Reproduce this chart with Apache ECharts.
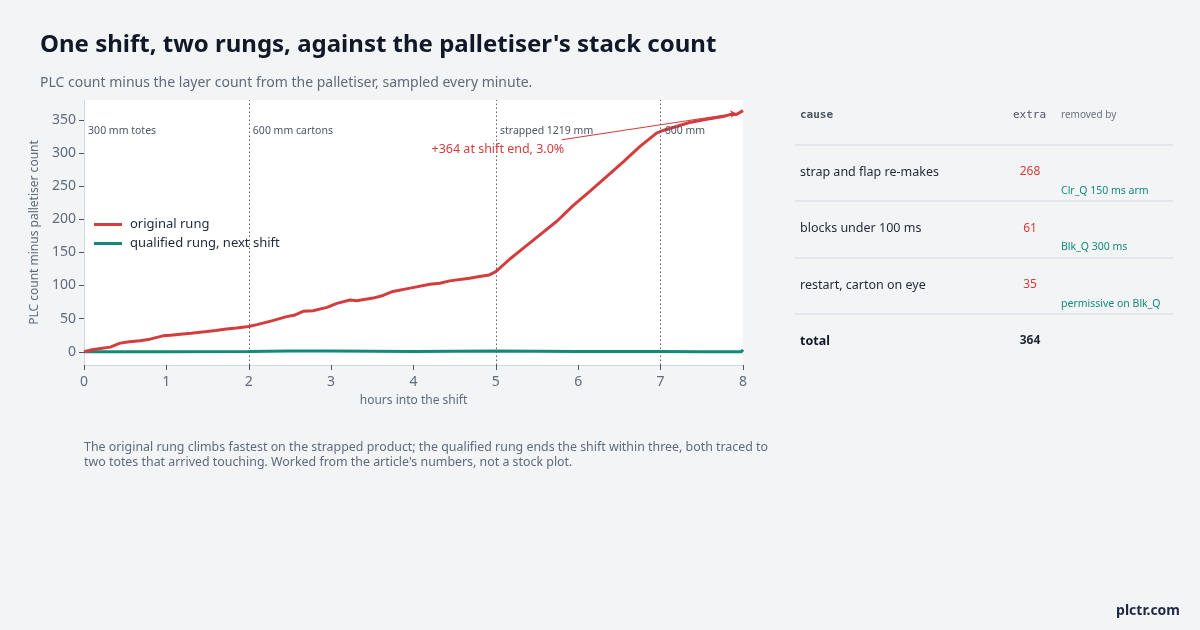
<!DOCTYPE html>
<html>
<head>
<meta charset="utf-8">
<script src="https://cdn.jsdelivr.net/npm/echarts@6/dist/echarts.min.js"></script>
<style>
  html, body { margin: 0; padding: 0; background: #f3f4f6; }
  #chart { width: 1200px; height: 630px; }
</style>
</head>
<body>
<div id="chart"></div>
<script>
// hours into the shift
var redHours = [0, 0.1, 0.2, 0.32, 0.4, 0.44, 0.55, 0.68, 0.8, 0.96, 1.05, 1.17, 1.3, 1.49, 1.6, 1.73, 1.85, 2.0,
    2.1, 2.29, 2.46, 2.55, 2.66, 2.78, 2.95, 3.07, 3.23, 3.31, 3.51, 3.63, 3.75, 3.96, 4.2, 4.32, 4.44, 4.68, 4.8,
    4.92, 5.0, 5.17, 5.33, 5.53, 5.74, 5.94, 6.14, 6.34, 6.55, 6.75, 6.95, 7.03, 7.19, 7.35, 7.56, 7.76, 7.84, 7.92, 8.0];
var redValues = [0, 3, 5, 7, 11, 13, 15, 16.5, 19, 24, 25, 26.5, 28, 30.5, 32, 34.5, 36, 38,
    41, 47, 53, 55, 61, 62, 67, 73, 78, 77, 81, 85, 91, 96, 102, 103.5, 107, 111, 113.5,
    116, 121, 140, 156, 176, 197, 221, 242, 264, 287, 310, 330, 334, 340, 346, 351, 355, 358, 358, 364];

var greenHours = [0, 1, 2, 2.5, 3, 4, 5, 6, 7, 7.5, 7.8, 7.98, 8];
var greenValues = [0, 0, 0.5, 1, 1, 0.5, 1, 0.5, 0.5, 0, 0, 0, 3];

var changeHours = [2, 5, 7];
var productLabels = ['300 mm totes', '600 mm cartons', 'strapped 1219 mm', '600 mm'];
var productStart = [0, 2, 5, 7];

var yTicks = [0, 50, 100, 150, 200, 250, 300, 350];

// breakdown table
var causes = ['strap and flap re-makes', 'blocks under 100 ms', 'restart, carton on eye'];
var extras = [268, 61, 35];
var removedBy = ['Clr_Q 150 ms arm', 'Blk_Q 300 ms', 'permissive on Blk_Q'];
var total = 364;

var RED = '#d43d3d';
var TEAL = '#138a78';
var GREY = '#5f6b7a';

function pairs(xs, ys) {
    return xs.map(function (x, i) { return [x, ys[i]]; });
}

var graphics = [];
// table header
graphics.push({ type: 'text', left: 800, top: 110, style: { text: 'cause', font: 'bold 11px "DejaVu Sans Mono"', fill: '#4b5563' } });
graphics.push({ type: 'text', left: 1013, top: 110, style: { text: 'extra', font: '11px "DejaVu Sans Mono"', fill: '#4b5563' } });
graphics.push({ type: 'text', left: 1061, top: 110, style: { text: 'removed by', font: '10px "Noto Sans"', fill: '#6b7280' } });
var lineYs = [145, 201, 258, 314];
lineYs.forEach(function (y) {
    graphics.push({ type: 'line', shape: { x1: 795, y1: y, x2: 1173, y2: y }, style: { stroke: '#d3dbe4', lineWidth: 1 } });
});
causes.forEach(function (c, i) {
    var y = 172 + i * 56.5;
    graphics.push({ type: 'text', x: 800, y: y, style: { text: c, font: '12.5px "Noto Sans"', fill: '#1f2937', textVerticalAlign: 'middle' } });
    graphics.push({ type: 'text', x: 1030, y: y, style: { text: String(extras[i]), font: '12px "Noto Sans"', fill: RED, textAlign: 'center', textVerticalAlign: 'middle' } });
    graphics.push({ type: 'text', x: 1061, y: y + 19, style: { text: removedBy[i], font: '10.5px "Noto Sans"', fill: TEAL, textVerticalAlign: 'middle' } });
});
graphics.push({ type: 'text', x: 800, y: 341, style: { text: 'total', font: 'bold 12.5px "Noto Sans"', fill: '#111827', textVerticalAlign: 'middle' } });
graphics.push({ type: 'text', x: 1030, y: 341, style: { text: String(total), font: 'bold 12px "Noto Sans"', fill: '#1f2937', textAlign: 'center', textVerticalAlign: 'middle' } });
// footnote
graphics.push({ type: 'text', x: 84, y: 440, style: {
    text: 'The original rung climbs fastest on the strapped product; the qualified rung ends the shift within three, both traced to\ntwo totes that arrived touching. Worked from the article\'s numbers, not a stock plot.',
    font: '12.4px "Noto Sans"', fill: GREY, lineHeight: 15 } });
graphics.push({ type: 'text', right: 20, top: 604, style: { text: 'plctr.com', font: 'bold 14px "Noto Sans"', fill: '#1e2a44' } });

var myChart = echarts.init(document.getElementById('chart'));
myChart.setOption({
    backgroundColor: '#f3f4f6',
    animation: false,
    textStyle: { fontFamily: 'Noto Sans' },
    title: [
        { text: "One shift, two rungs, against the palletiser's stack count", left: 35, top: 28,
          textStyle: { fontSize: 24, fontWeight: 'bold', color: '#111827' } },
        { text: 'PLC count minus the layer count from the palletiser, sampled every minute.', left: 35, top: 71,
          textStyle: { fontSize: 14, fontWeight: 'normal', color: GREY } }
    ],
    grid: { left: 84, right: 457, top: 100, bottom: 265, show: true, backgroundColor: '#ffffff', borderWidth: 0 },
    legend: {
        left: 89, top: 213, orient: 'vertical', itemGap: 6, itemWidth: 28, itemHeight: 3, icon: 'rect',
        textStyle: { fontSize: 13, color: '#1f2937', padding: [0, 0, 0, 3] },
        data: ['original rung', 'qualified rung, next shift']
    },
    xAxis: {
        type: 'value', min: 0, max: 8, interval: 1,
        name: 'hours into the shift', nameLocation: 'middle', nameGap: 30,
        nameTextStyle: { fontSize: 12, color: GREY },
        axisLine: { onZero: false, lineStyle: { color: '#cfd8e3' } },
        axisTick: { show: true, length: 5, lineStyle: { color: '#4b5563' } },
        axisLabel: { fontSize: 14, color: GREY, margin: 10 },
        splitLine: { show: false }
    },
    yAxis: {
        type: 'value', min: -20, max: 380,
        name: 'PLC count minus palletiser count', nameLocation: 'middle', nameGap: 41,
        nameTextStyle: { fontSize: 12, color: GREY },
        axisLine: { show: true, lineStyle: { color: '#cfd8e3' } },
        axisTick: { show: true, length: 5, customValues: yTicks, lineStyle: { color: '#4b5563' } },
        axisLabel: { fontSize: 14, color: GREY, margin: 8, customValues: yTicks },
        splitLine: { show: false }
    },
    series: [
        {
            name: 'original rung', type: 'line', data: pairs(redHours, redValues),
            showSymbol: false, color: RED, lineStyle: { width: 3, color: RED }, z: 3,
            markLine: {
                silent: true, symbol: ['none', 'arrow'], symbolSize: 6,
                lineStyle: { color: RED, width: 1.2, type: 'solid' }, label: { show: false },
                data: [[{ coord: [5.8, 320] }, { coord: [7.92, 360] }]]
            },
            markPoint: {
                silent: true, symbol: 'circle', symbolSize: 1, itemStyle: { color: 'rgba(0,0,0,0)' },
                label: { show: true, position: 'inside', align: 'right', verticalAlign: 'middle', fontSize: 12.5, color: RED,
                    formatter: '+' + total + ' at shift end, 3.0%' },
                data: [{ coord: [5.83, 305] }]
            }
        },
        {
            name: 'qualified rung, next shift', type: 'line', data: pairs(greenHours, greenValues),
            showSymbol: false, color: TEAL, lineStyle: { width: 3, color: TEAL }, z: 2,
            markLine: {
                silent: true, symbol: ['none', 'none'],
                lineStyle: { color: '#555d69', width: 1, type: [1.5, 2.5] }, label: { show: false },
                data: changeHours.map(function (h) { return { xAxis: h }; })
            },
            markPoint: {
                silent: true, symbol: 'circle', symbolSize: 1, itemStyle: { color: 'rgba(0,0,0,0)' },
                label: { show: true, position: 'inside', align: 'left', verticalAlign: 'middle', fontSize: 10.5, color: '#4b5563',
                    formatter: function (p) { return p.name; } },
                data: productStart.map(function (h, i) { return { name: productLabels[i], coord: [h + 0.05, 333] }; })
            }
        }
    ],
    graphic: graphics
});
</script>
</body>
</html>
